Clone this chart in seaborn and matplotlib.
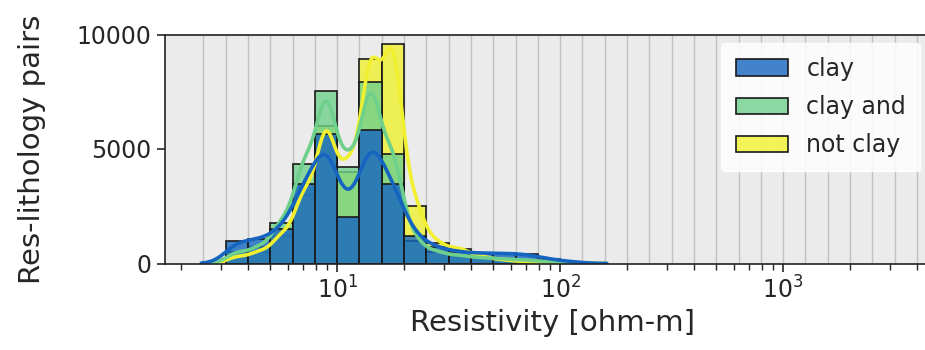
import numpy as np
import pandas as pd
import matplotlib
matplotlib.use("Agg")
import matplotlib.pyplot as plt
import seaborn as sns

# ---- data ----
# lower bin edges in log10(ohm-m); bins are 0.1 decade wide
bin_lo_log = [0.5, 0.6, 0.7, 0.8, 0.9, 1.0, 1.1, 1.2, 1.3, 1.4, 1.5, 1.6, 1.7, 1.8, 1.9, 2.0]
categories = ["clay", "clay and", "not clay"]
clay_counts     = [1000, 1050, 1500, 3490, 5660, 2040, 5810, 3490, 1200, 700, 500, 450, 450, 400, 200, 80]
clay_and_counts = [500, 700, 1750, 4360, 7550, 4210, 7910, 4790, 1000, 500, 350, 250, 200, 150, 80, 30]
not_clay_counts = [300, 500, 1200, 3000, 6000, 4000, 8930, 9580, 2500, 890, 650, 300, 150, 80, 40, 0]
bin_width_log = 0.1
y_ticks = [0, 5000, 10000]

# ---- build long-form table ----
centers = 10 ** (np.array(bin_lo_log) + bin_width_log / 2)
rows = []
for cat, counts in zip(categories, [clay_counts, clay_and_counts, not_clay_counts]):
    for c, n in zip(centers, counts):
        if n > 0:
            rows.append({"res": c, "n": n, "lith": cat})
df = pd.DataFrame(rows)

sns.set_style("ticks")
plt.rcParams["font.family"] = ["DejaVu Sans"]

palette = {"clay": "#1565c0", "clay and": "#6fd08c", "not clay": "#f0f030"}

fig = plt.figure(figsize=(9.25, 3.5), dpi=100)
ax = fig.add_axes([165 / 925, 86.5 / 350, 774 / 925, 229 / 350])
ax.set_facecolor("#ebebeb")

# background bin-edge lines
edges_bg = 10 ** np.arange(0.4, 3.75, bin_width_log)
for e in edges_bg:
    ax.axvline(e, color="#c2c2c2", lw=1.0, zorder=0)

sns.histplot(
    data=df, x="res", weights="n", hue="lith", hue_order=categories,
    palette=palette, log_scale=True, binwidth=bin_width_log,
    binrange=(bin_lo_log[0], bin_lo_log[-1] + bin_width_log),
    alpha=0.8, edgecolor="#1a1a1a", linewidth=1.2,
    kde=True, kde_kws={"bw_adjust": 0.3, "cut": 2.5}, line_kws={"linewidth": 2.6},
    ax=ax,
)

ax.set_xlim(1.69, 5000)
ax.set_ylim(0, 10000)
ax.set_yticks(y_ticks)
ax.set_xlabel("Resistivity [ohm-m]", fontsize=21)
ax.set_ylabel("Res-lithology pairs", fontsize=21, labelpad=22)
ax.tick_params(axis="both", which="major", labelsize=17, length=6, width=1.2, direction="out")
ax.tick_params(axis="x", which="minor", length=4, width=1.0, direction="out")
for s in ax.spines.values():
    s.set_color("#222222")
    s.set_linewidth(1.2)

sns.move_legend(ax, "upper right", title=None, fontsize=17, frameon=True,
                framealpha=0.85, edgecolor="white", bbox_to_anchor=(0.985, 0.995),
                borderaxespad=0.3, labelspacing=0.6, borderpad=0.6, handlelength=2.2)

fig.savefig("out.png", dpi=100)
